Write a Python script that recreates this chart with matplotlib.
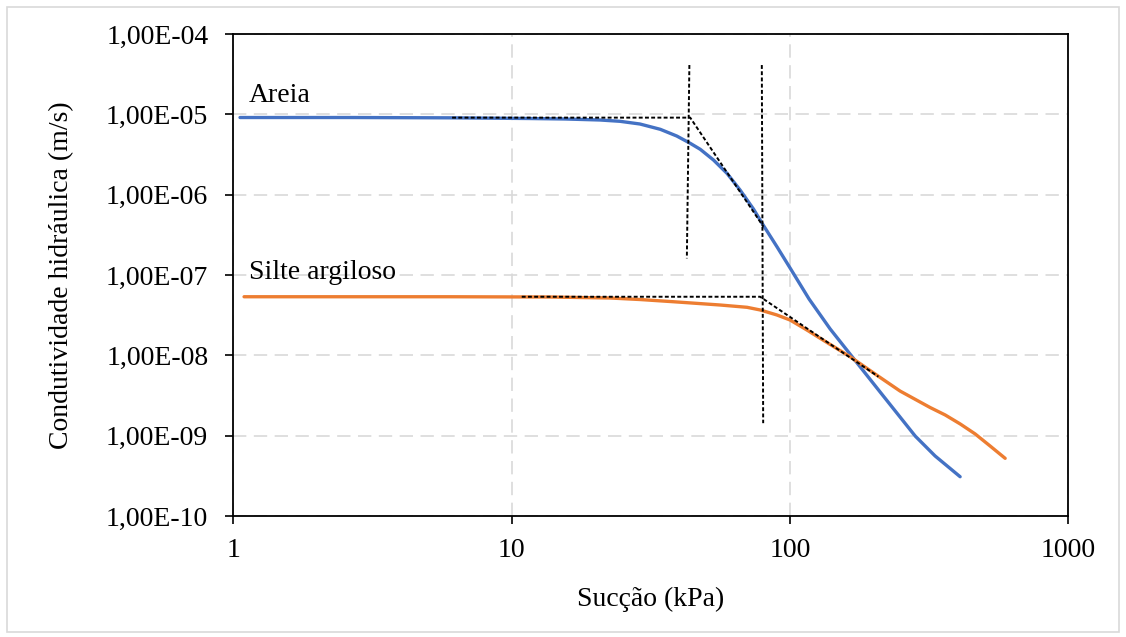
import math
import matplotlib
matplotlib.use('Agg')
import matplotlib.pyplot as plt
from matplotlib.ticker import FixedLocator, FuncFormatter, NullLocator
from matplotlib.patches import Rectangle

# ─── Data (suction kPa, conductivity m/s) ───
areia_suction = [1.057, 2.63, 6.01, 11.65, 15.6, 20.8, 24.5, 28.9, 34.2, 39.2,
                 43.8, 47.6, 53.1, 59.4, 66.2, 73.9, 80.1, 89.9, 100.1,
                 117.1, 139.4, 167.2, 210.8, 281.6, 332.2, 408.5]
areia_k = [9.13e-6, 9.13e-6, 9.05e-6, 8.87e-6, 8.75e-6, 8.50e-6, 8.19e-6, 7.58e-6,
           6.51e-6, 5.37e-6, 4.36e-6, 3.67e-6, 2.70e-6, 1.84e-6, 1.14e-6, 6.63e-7,
           4.19e-7, 2.23e-7, 1.22e-7, 5.02e-8, 2.13e-8, 9.61e-9, 3.49e-9, 9.90e-10,
           5.58e-10, 3.08e-10]

silte_suction = [1.093, 6.01, 13.74, 22.6, 28.9, 38.0, 56.1, 70.1, 78.1, 89.7,
                 100.1, 114.9, 128.3, 164.4, 210.8, 248.6, 318.7, 360.9, 408.5,
                 462.6, 523.6, 592.9]
silte_k = [5.36e-8, 5.36e-8, 5.32e-8, 5.17e-8, 4.95e-8, 4.65e-8, 4.23e-8, 3.96e-8,
           3.67e-8, 3.18e-8, 2.75e-8, 2.07e-8, 1.63e-8, 9.61e-9, 5.30e-9, 3.59e-9,
           2.24e-9, 1.81e-9, 1.40e-9, 1.05e-9, 7.43e-10, 5.22e-10]

# construction lines (dashed)
areia_guide_x = [6.11, 43.8, 80.3]
areia_guide_k = [9.1e-6, 9.1e-6, 3.99e-7]
silte_guide_x = [10.87, 78.1, 207.8]
silte_guide_k = [5.36e-8, 5.36e-8, 5.42e-9]
vline1_x = [43.5, 42.6]
vline1_k = [4.11e-5, 1.61e-7]
vline2_x = [79.2, 80.1]
vline2_k = [4.11e-5, 1.43e-9]

x_ticks = [1, 10, 100, 1000]
y_ticks = [1e-10, 1e-9, 1e-8, 1e-7, 1e-6, 1e-5, 1e-4]

BLUE = '#4472C4'
ORANGE = '#ED7D31'
GRID = '#d9d9d9'

plt.rcParams['font.family'] = ['Liberation Serif', 'DejaVu Serif']
FS = 20

fig = plt.figure(figsize=(11.26, 6.37), dpi=100)
ax = fig.add_axes([0.2072, 0.190, 0.7416, 0.7566])

# light chart frame
fig.patches.append(Rectangle((0.0065, 0.008), 0.987, 0.981, transform=fig.transFigure,
                             fill=False, edgecolor='#d9d9d9', linewidth=1.2))

ax.set_xscale('log')
ax.set_yscale('log')
ax.set_xlim(1, 1000)
ax.set_ylim(1e-10, 1e-4)

ax.grid(True, which='major', color=GRID, linestyle=(0, (8, 4.5)), linewidth=1.2)
ax.set_axisbelow(True)

ax.plot(areia_suction, areia_k, color=BLUE, linewidth=2.4,
        solid_capstyle='round', solid_joinstyle='round', zorder=3)
ax.plot(silte_suction, silte_k, color=ORANGE, linewidth=2.4,
        solid_capstyle='round', solid_joinstyle='round', zorder=3)

dash = dict(color='black', linestyle=(0, (2, 1.2)), linewidth=1.4, zorder=4)
ax.plot(areia_guide_x, areia_guide_k, **dash)
ax.plot(silte_guide_x, silte_guide_k, **dash)
ax.plot(vline1_x, vline1_k, **dash)
ax.plot(vline2_x, vline2_k, **dash)

ax.text(1.14, 1.74e-5, 'Areia', fontsize=FS, va='center', ha='left')
ax.text(1.14, 1.06e-7, 'Silte argiloso', fontsize=FS, va='center', ha='left')

ax.xaxis.set_major_locator(FixedLocator(x_ticks))
ax.xaxis.set_minor_locator(NullLocator())
ax.yaxis.set_major_locator(FixedLocator(y_ticks))
ax.yaxis.set_minor_locator(NullLocator())
ax.xaxis.set_major_formatter(FuncFormatter(lambda v, p: f'{v:g}'))


def sci_comma(v, p):
    exp = int(round(math.log10(v)))
    sign = '-' if exp < 0 else '+'
    return f'1,00E{sign}{abs(exp):02d}'


ax.yaxis.set_major_formatter(FuncFormatter(sci_comma))
ax.tick_params(axis='both', which='major', labelsize=FS, length=6, width=1.2,
               direction='out', color='black')
ax.tick_params(axis='y', pad=12)
ax.tick_params(axis='x', pad=10)

for s in ax.spines.values():
    s.set_color('black')
    s.set_linewidth(1.3)

ax.set_xlabel('Sucção (kPa)', fontsize=FS, labelpad=17)
ax.set_ylabel('Condutividade hidráulica (m/s)', fontsize=FS, labelpad=23)

fig.savefig('out.png', dpi=100)
